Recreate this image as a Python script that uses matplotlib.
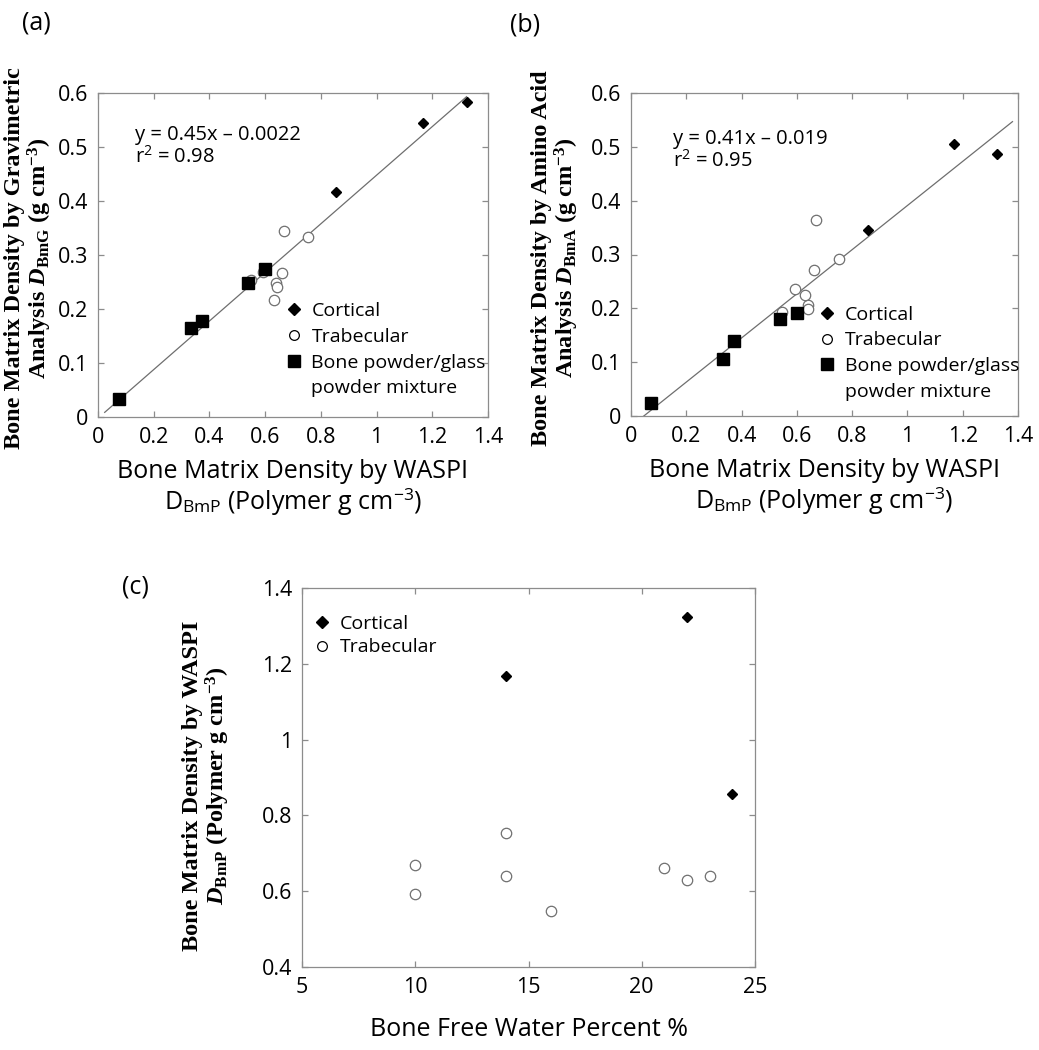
import matplotlib
matplotlib.use('Agg')
import matplotlib.pyplot as plt
from matplotlib.lines import Line2D
from matplotlib.ticker import FuncFormatter
import numpy as np

plt.rcParams['mathtext.fontset'] = 'custom'
plt.rcParams['mathtext.rm'] = 'Liberation Serif:bold'
plt.rcParams['mathtext.bf'] = 'Liberation Serif:bold'
plt.rcParams['mathtext.it'] = 'Liberation Serif:bold:italic'
plt.rcParams['mathtext.sf'] = 'Open Sans'

SANS = 'Open Sans'
SERIF = 'Liberation Serif'

# data
cort_waspi = [0.856, 1.167, 1.323]
cort_grav = [0.417, 0.544, 0.584]
cort_amino = [0.345, 0.506, 0.486]
cort_water = [24, 14, 22]

trab_waspi = [0.668, 0.753, 0.661, 0.640, 0.641, 0.630, 0.548, 0.593]
trab_grav = [0.344, 0.333, 0.266, 0.248, 0.240, 0.216, 0.253, 0.269]
trab_amino = [0.365, 0.291, 0.272, 0.207, 0.198, 0.225, 0.194, 0.235]
trab_water = [10, 14, 21, 14, 23, 22, 16, 10]

powder_waspi = [0.074, 0.334, 0.373, 0.539, 0.600]
powder_grav = [0.034, 0.165, 0.177, 0.248, 0.275]
powder_amino = [0.024, 0.106, 0.140, 0.180, 0.192]

# linear fits as printed on the panels
fit_a = (0.45, -0.0022)
fit_b = (0.41, -0.019)
fit_a_x = [0.024, 1.323]
fit_b_x = [0.046, 1.38]

W, H = 1039, 1050
fig = plt.figure(figsize=(W / 100, H / 100), dpi=100)


def px_axes(l, t, r, b):
    return fig.add_axes([l / W, 1 - b / H, (r - l) / W, (b - t) / H])


def style(ax):
    for s in ax.spines.values():
        s.set_color('#8c8c8c')
        s.set_linewidth(0.9)
    ax.tick_params(direction='in', top=True, right=True, length=4, width=0.9,
                   color='#8c8c8c', labelsize=15.5, pad=7)
    for lab in ax.get_xticklabels() + ax.get_yticklabels():
        lab.set_family(SANS)
    fmt = FuncFormatter(lambda v, p: '%g' % round(v, 3))
    ax.xaxis.set_major_formatter(fmt)
    ax.yaxis.set_major_formatter(fmt)


def draw_points(ax, x1, y1, x2, y2, x3=None, y3=None):
    ax.plot(x1, y1, 'D', ms=5.5, color='black', ls='none', zorder=4)
    ax.plot(x2, y2, 'o', ms=7.5, mfc='white', mec='#707070', mew=0.9, ls='none', zorder=3)
    if x3 is not None:
        ax.plot(x3, y3, 's', ms=8.5, color='black', ls='none', zorder=5)


def legend(ax, anchor, powder=True, spacing=0.4):
    h = [Line2D([], [], marker='D', ms=6.5, color='black', ls='none'),
         Line2D([], [], marker='o', ms=7, mfc='white', mec='black', mew=0.9, ls='none')]
    labels = ['Cortical', 'Trabecular']
    if powder:
        h += [Line2D([], [], marker='s', ms=9, color='black', ls='none'),
              Line2D([], [], ls='none')]
        labels += ['Bone powder/glass', 'powder mixture']
    ax.legend(h, labels, loc='upper left', bbox_to_anchor=anchor, frameon=False,
              prop={'family': SANS, 'size': 14}, handlelength=0.9, handletextpad=0.45,
              labelspacing=spacing, borderpad=0, borderaxespad=0)


xlab = 'Bone Matrix Density by WASPI\nD$_{\\mathsf{BmP}}$ (Polymer g cm$^{\\mathsf{-3}}$)'

# (a)
ax = px_axes(98, 93, 488, 417)
xs = np.array(fit_a_x)
ax.plot(xs, fit_a[0] * xs + fit_a[1], color='#6e6e6e', lw=0.9, zorder=2)
draw_points(ax, cort_waspi, cort_grav, trab_waspi, trab_grav, powder_waspi, powder_grav)
ax.set_xlim(0, 1.4)
ax.set_ylim(0, 0.6)
ax.set_xticks(np.arange(0, 1.41, 0.2))
ax.set_yticks(np.arange(0, 0.61, 0.1))
style(ax)
ax.set_xlabel(xlab, family=SANS, fontsize=18, labelpad=8, linespacing=1.1)
ax.text(0.095, 0.9, 'y = 0.45x \u2013 0.0022\nr$^{\\mathsf{2}}$ = 0.98', transform=ax.transAxes,
        family=SANS, fontsize=14.5, va='top', ha='left', linespacing=1.1)
legend(ax, (0.48, 0.355))
fig.text(29 / W, 1 - 258 / H,
         'Bone Matrix Density by Gravimetric\nAnalysis $\\mathit{D}_{\\mathbf{BmG}}$ (g cm$^{\\mathbf{-3}}$)',
         rotation=90, ha='center', va='center', multialignment='center',
         family=SERIF, weight='bold', fontsize=17.5, linespacing=1.0)
fig.text(22 / W, 1 - 23 / H, '(a)', family=SANS, fontsize=18, va='center')

# (b)
ax = px_axes(631, 93, 1018, 416)
xs = np.array(fit_b_x)
ax.plot(xs, fit_b[0] * xs + fit_b[1], color='#6e6e6e', lw=0.9, zorder=2)
draw_points(ax, cort_waspi, cort_amino, trab_waspi, trab_amino, powder_waspi, powder_amino)
ax.set_xlim(0, 1.4)
ax.set_ylim(0, 0.6)
ax.set_xticks(np.arange(0, 1.41, 0.2))
ax.set_yticks(np.arange(0, 0.61, 0.1))
style(ax)
ax.set_xlabel(xlab, family=SANS, fontsize=18, labelpad=8, linespacing=1.1)
ax.text(0.108, 0.89, 'y = 0.41x \u2013 0.019\nr$^{\\mathsf{2}}$ = 0.95', transform=ax.transAxes,
        family=SANS, fontsize=14.5, va='top', ha='left', linespacing=1.1)
legend(ax, (0.485, 0.342))
fig.text(556 / W, 1 - 258 / H,
         'Bone Matrix Density by Amino Acid\nAnalysis $\\mathit{D}_{\\mathbf{BmA}}$ (g cm$^{\\mathbf{-3}}$)',
         rotation=90, ha='center', va='center', multialignment='center',
         family=SERIF, weight='bold', fontsize=17.5, linespacing=1.0)
fig.text(510 / W, 1 - 25 / H, '(b)', family=SANS, fontsize=18, va='center')

# (c)
ax = px_axes(302, 588, 755, 967)
draw_points(ax, cort_water, cort_waspi, trab_water, trab_waspi)
ax.set_xlim(5, 25)
ax.set_ylim(0.4, 1.4)
ax.set_xticks(np.arange(5, 26, 5))
ax.set_yticks(np.arange(0.4, 1.41, 0.2))
style(ax)
ax.set_xlabel('Bone Free Water Percent %', family=SANS, fontsize=18, labelpad=14)
legend(ax, (0.025, 0.93), powder=False, spacing=0.3)
fig.text(207 / W, 1 - 786 / H,
         'Bone Matrix Density by WASPI\n$\\mathit{D}_{\\mathbf{BmP}}$ (Polymer g cm$^{\\mathbf{-3}}$)',
         rotation=90, ha='center', va='center', multialignment='center',
         family=SERIF, weight='bold', fontsize=17.5, linespacing=1.0)
fig.text(122 / W, 1 - 587 / H, '(c)', family=SANS, fontsize=18, va='center')

fig.savefig('out.png', dpi=100)
